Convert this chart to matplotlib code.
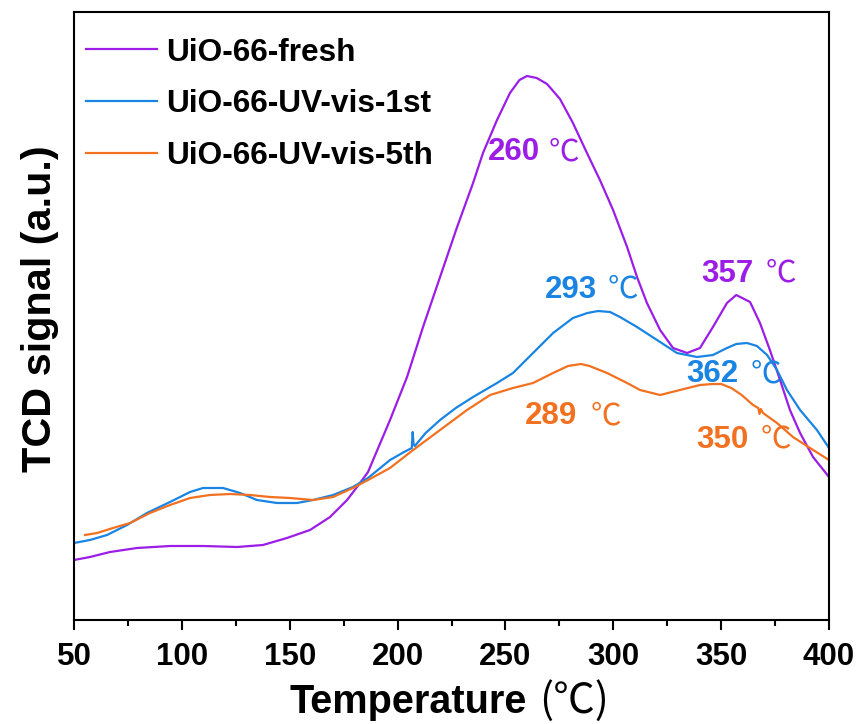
import matplotlib
matplotlib.use("Agg")
import matplotlib.pyplot as plt
from matplotlib.font_manager import FontProperties
from matplotlib.ticker import MultipleLocator, NullLocator

# ---- TPD/TCD profiles (temperature in degC, signal in arbitrary units) ----
temp_fresh = [50, 57.4, 66.7, 79.2, 94.5, 109.8, 125.6, 137.6, 148.7, 159.4, 168.7,
              176.6, 182.6, 186.3, 196.5, 204.4, 211.8, 219.7, 227.6, 235.0, 239.6,
              246.1, 252.1, 256.5, 260, 264.5, 269.3, 275.3, 281.3, 287.8, 293.8,
              299.9, 306.4, 311.0, 315.6, 321.7, 327.7, 334.2, 340.2, 346.2, 352.7,
              357, 363.4, 368.0, 372.6, 377.3, 381.9, 386.6, 392.6, 400]
sig_fresh = [60, 63, 68, 72, 74, 74, 73, 75, 82, 90, 103,
             120, 137, 148, 200, 243, 293, 343, 393, 437, 467,
             500, 527, 540, 544, 542, 536, 521, 497, 467, 440,
             410, 373, 343, 317, 290, 272, 267, 272, 293, 317,
             325, 318, 297, 270, 240, 210, 187, 163, 143]

temp_1st = [50, 57.4, 65.3, 74.6, 83.8, 94.5, 103.8, 109.8, 119.1, 127.0, 134.8,
            144.1, 153.4, 160.8, 170.1, 179.3, 186.3, 196.5, 203.0, 206.6, 207.0,
            207.4, 208.0, 213.0, 219.7, 227.0, 235.0, 246.1, 253.5, 262.8, 272.1,
            281.3, 288.0, 293, 298.5, 303.1, 311.0, 321.7, 329.5, 338.8, 346.2,
            352.7, 357.0, 362, 366.6, 371.3, 375.9, 380.5, 386.6, 394.4, 400]
sig_1st = [77, 80, 85, 95, 107, 118, 128, 132, 132, 127, 120,
           117, 117, 120, 125, 133, 142, 160, 168, 172, 188,
           176, 174, 187, 200, 212, 223, 237, 247, 267, 287,
           302, 307, 309, 308, 303, 293, 278, 267, 263, 265,
           272, 276, 277, 274, 265, 250, 230, 210, 190, 172]

temp_5th = [55.1, 60.7, 68.1, 76.0, 85.2, 94.5, 103.8, 113.0, 122.3, 131.6, 140.9,
            150.1, 160.8, 170.1, 179.3, 186.3, 196.5, 207.2, 219.7, 232.2, 242.9,
            253.5, 262.8, 272.1, 279.0, 285, 289, 297.1, 306.4, 312.4, 321.7,
            330.9, 340.2, 346.0, 350, 354.7, 359.5, 364.8, 367.2, 367.8, 368.4,
            369.4, 375.9, 383.3, 391.2, 400]
sig_5th = [85, 87, 92, 97, 107, 115, 122, 125, 126, 125, 123,
           122, 120, 123, 132, 140, 152, 170, 190, 210, 225,
           232, 237, 247, 254, 256, 254, 247, 237, 230, 225,
           230, 235, 236, 236, 232, 225, 215, 212, 206, 211,
           207, 197, 183, 172, 160]

series_labels = ["UiO-66-fresh", "UiO-66-UV-vis-1st", "UiO-66-UV-vis-5th"]
series_colors = ["#9b1de6", "#1a84e2", "#f27121"]

# peak annotations: (value text, colour index, digits right edge T, baseline signal, deg-sign left T)
peak_labels = [("260", 0, 266.0, 459.5, 270.2),
               ("293", 1, 292.4, 322.5, 297.6),
               ("357", 0, 364.8, 338.5, 370.4),
               ("362", 1, 357.8, 237.5, 363.5),
               ("289", 2, 283.2, 195.5, 289.3),
               ("350", 2, 362.5, 172.5, 368.1)]

x_ticks = [50, 100, 150, 200, 250, 300, 350, 400]

# ---- figure ----
W, H = 859, 724
fig = plt.figure(figsize=(W / 100, H / 100), dpi=100)
ax = fig.add_axes([74 / W, (H - 620) / H, (829 - 74) / W, (620 - 12) / H])

bold = dict(family=["Liberation Sans", "DejaVu Sans"], weight="bold")
cjk = dict(family=["Noto Sans CJK SC", "DejaVu Sans"], weight="normal")

for t, s, lab, col in zip([temp_fresh, temp_1st, temp_5th],
                          [sig_fresh, sig_1st, sig_5th],
                          series_labels, series_colors):
    ax.plot(t, s, color=col, lw=1.6, label=lab, solid_joinstyle="round")

ax.set_xlim(50, 400)
ax.set_ylim(0, 608)
ax.set_xticks(x_ticks)
ax.xaxis.set_minor_locator(MultipleLocator(25))
ax.yaxis.set_major_locator(NullLocator())
ax.yaxis.set_minor_locator(NullLocator())
ax.tick_params(axis="x", which="major", direction="out", length=7.5, width=1.5, pad=8.5)
ax.tick_params(axis="x", which="minor", direction="out", length=4, width=1.5)
for lbl in ax.get_xticklabels():
    lbl.set_fontproperties(FontProperties(family="Liberation Sans", weight="bold", size=22.5))
for sp in ax.spines.values():
    sp.set_linewidth(1.5)

ax.legend(loc="upper left", bbox_to_anchor=(0.0153, 0.958), frameon=False,
          prop=FontProperties(family="Liberation Sans", weight="bold", size=22.8),
          handlelength=2.26, handletextpad=0.28, labelspacing=0.68,
          borderpad=0, borderaxespad=0)

for txt, ci, t_r, s_b, t_deg in peak_labels:
    ax.text(t_r, s_b, txt, color=series_colors[ci], fontsize=22.5, ha="right",
            va="baseline", **bold)
    ax.text(t_deg, s_b, "\u2103", color=series_colors[ci], fontsize=22, ha="left",
            va="baseline", **cjk)

# axis titles
fig.text(527 / W, (H - 713) / H, "Temperature", fontsize=28.5, ha="right",
         va="baseline", **bold)
fig.text(539 / W, (H - 713) / H, "(\u2103)", fontsize=30, ha="left",
         va="baseline", **cjk)
fig.text(40 / W, (H - 309) / H, "TCD signal (a.u.)", fontsize=29.8, rotation=90,
         ha="center", va="center", **bold)

fig.savefig("out.png", dpi=100)
